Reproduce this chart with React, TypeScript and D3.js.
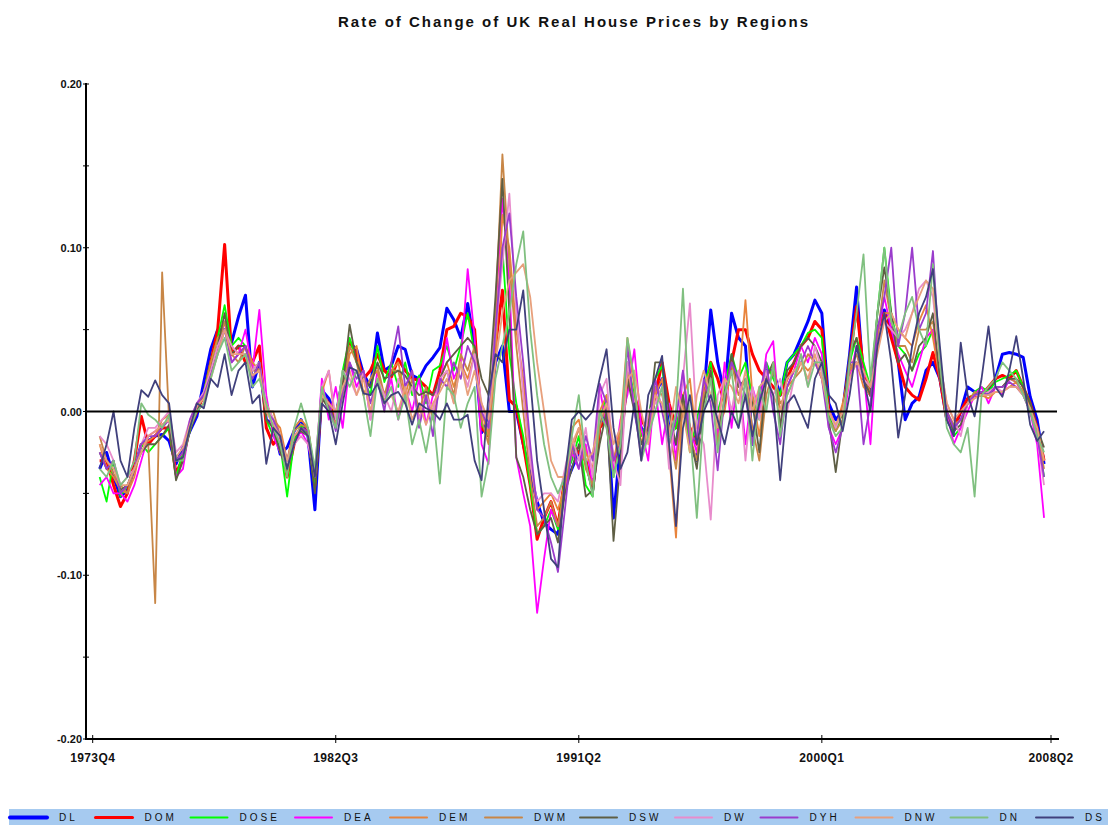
import React from "react";
import * as d3 from "d3";

// quarterly rate of change, 1974Q1 .. 2008Q1 (137 values each)
const firstQuarter = "1974Q1";
const xTickLabels = ["1973Q4", "1982Q3", "1991Q2", "2000Q1", "2008Q2"];
const yTicks = [-0.2, -0.1, 0, 0.1, 0.2];
const yMinorTicks = [-0.15, -0.05, 0.05, 0.15];

const seriesNames = ["DL", "DOM", "DOSE", "DEA", "DEM", "DWM", "DSW", "DW", "DYH", "DNW", "DN", "DS"];

const DL = [
  -0.035, -0.025, -0.040, -0.052, -0.048, -0.035, -0.020, -0.018, -0.015, -0.014,
  -0.018, -0.032, -0.022, -0.012, -0.003, 0.018, 0.038, 0.050, 0.050, 0.042,
  0.058, 0.071, 0.015, 0.030, -0.005, -0.008, -0.026, -0.022, -0.012, -0.005,
  -0.015, -0.060, 0.013, 0.008, -0.003, 0.020, 0.042, 0.038, 0.023, 0.015,
  0.048, 0.025, 0.028, 0.040, 0.038, 0.022, 0.020, 0.028, 0.033, 0.039,
  0.063, 0.056, 0.045, 0.066, 0.040, -0.013, -0.005, 0.030, 0.040, 0.000,
  0.000, -0.020, -0.038, -0.055, -0.068, -0.072, -0.075, -0.045, -0.035, -0.025,
  -0.030, -0.048, -0.010, 0.005, -0.065, -0.020, 0.025, 0.005, -0.010, -0.015,
  0.010, 0.020, -0.010, -0.020, 0.005, -0.020, -0.030, 0.010, 0.062, 0.030,
  0.010, 0.060, 0.045, 0.040, -0.020, 0.010, 0.025, 0.025, 0.010, 0.030,
  0.035, 0.045, 0.055, 0.068, 0.060, 0.005, -0.005, 0.000, 0.035, 0.076,
  0.020, 0.010, 0.050, 0.062, 0.050, 0.030, -0.005, 0.005, 0.009, 0.025,
  0.030, 0.020, -0.005, -0.012, 0.000, 0.015, 0.012, 0.010, 0.012, 0.020,
  0.035, 0.036, 0.035, 0.033, 0.009, -0.005, -0.032,
];

const DOM = [
  -0.030, -0.030, -0.045, -0.058, -0.050, -0.030, -0.003, -0.020, -0.015, -0.010,
  -0.010, -0.038, -0.028, -0.010, 0.000, 0.010, 0.030, 0.050, 0.102, 0.035,
  0.040, 0.030, 0.030, 0.040, -0.010, -0.020, -0.015, -0.040, -0.020, -0.010,
  -0.012, -0.045, 0.010, 0.005, -0.005, 0.020, 0.043, 0.035, 0.020, 0.025,
  0.035, 0.025, 0.021, 0.032, 0.025, 0.020, 0.019, 0.015, 0.010, 0.025,
  0.050, 0.052, 0.060, 0.058, 0.050, -0.010, -0.015, 0.040, 0.074, 0.007,
  0.003, -0.020, -0.045, -0.078, -0.065, -0.055, -0.070, -0.040, -0.020, -0.025,
  -0.030, -0.048, -0.010, -0.005, -0.035, -0.020, 0.020, 0.010, -0.005, -0.012,
  0.010, 0.030, 0.005, -0.010, 0.005, -0.010, -0.020, 0.010, 0.030, 0.020,
  0.005, 0.030, 0.050, 0.050, 0.035, 0.025, 0.020, 0.015, 0.010, 0.020,
  0.030, 0.040, 0.045, 0.055, 0.050, 0.000, -0.010, 0.000, 0.030, 0.064,
  0.025, 0.010, 0.050, 0.060, 0.045, 0.030, 0.015, 0.010, 0.007, 0.020,
  0.036, 0.020, -0.005, -0.010, 0.000, 0.008, 0.010, 0.010, 0.015, 0.020,
  0.022, 0.020, 0.025, 0.015, 0.005, -0.010, -0.030,
];

const DOSE = [
  -0.040, -0.055, -0.030, -0.052, -0.045, -0.035, -0.020, -0.025, -0.020, -0.015,
  -0.010, -0.040, -0.025, -0.012, 0.002, 0.012, 0.030, 0.045, 0.065, 0.040,
  0.045, 0.040, 0.025, 0.030, -0.005, -0.015, -0.020, -0.052, -0.018, -0.008,
  -0.015, -0.048,
  0.012, 0.000, -0.005, 0.025, 0.045, 0.030, 0.020, 0.010, 0.040, 0.018, 0.030, 0.015, 0.030,
  0.010, 0.022, 0.005, 0.025, 0.028, 0.040, 0.025, 0.040, 0.060, 0.035, -0.008, -0.015,
  0.050, 0.100, 0.035, 0.005, -0.015, -0.045, -0.075, -0.070, -0.060, -0.072, -0.040,
  -0.030, -0.015, -0.045, -0.052, -0.005, 0.010, -0.040, -0.020, 0.030, 0.010,
  -0.015, -0.005, 0.020, 0.028, -0.015, -0.010, 0.010, -0.025, -0.005, 0.015,
  0.030, 0.000, 0.015, 0.035, 0.020, 0.030, 0.010, -0.005, 0.030, 0.020,
  0.010, 0.030, 0.035, 0.040, 0.048, 0.050,
  0.045, -0.002, -0.012, 0.000, 0.030, 0.045, 0.030, 0.015, 0.060, 0.100, 0.060,
  0.040, 0.035, 0.025, 0.035, 0.040, 0.050, 0.025, -0.003, -0.015, -0.010, 0.005,
  0.012, 0.015, 0.012, 0.018, 0.020, 0.022, 0.025, 0.015, 0.005, -0.012, -0.040,
];

const DEA = [
  -0.045, -0.040, -0.050, -0.050, -0.055, -0.045, -0.030, -0.015, -0.012, -0.008,
  -0.005, -0.040, -0.035, -0.008, 0.002, 0.010, 0.025, 0.040, 0.055, 0.030,
  0.035, 0.050, 0.025, 0.062, 0.010, -0.015, -0.025, -0.035, -0.020, -0.012,
  -0.020, -0.040,
  0.020, -0.005, 0.015, -0.010, 0.030, 0.015, 0.025, -0.005, 0.025, 0.005, 0.020, -0.005, 0.015,
  0.000, 0.020, -0.008, 0.010, 0.015, 0.045, 0.020, 0.030, 0.087, 0.045, -0.020, -0.032,
  0.060, 0.130, 0.080, -0.028, -0.050, -0.070, -0.123, -0.090, -0.060, -0.070, -0.050,
  -0.025, -0.035, -0.020, -0.045, 0.015, -0.010, -0.035, -0.005, 0.010, 0.038,
  -0.010, -0.030, 0.015, -0.020, 0.005, -0.030, 0.025, -0.010, -0.025, 0.010,
  0.025, -0.015, 0.030, -0.010, 0.025, -0.020, 0.015, 0.000, 0.035, 0.043,
  -0.010, 0.015, 0.025, 0.040, 0.030, 0.045,
  0.035, -0.010, -0.020, -0.010, 0.020, 0.040, 0.025, -0.020, 0.045, 0.070, 0.050,
  0.035, 0.025, 0.015, 0.030, 0.045, 0.050, 0.020, 0.000, -0.020, -0.010, 0.000,
  0.010, 0.015, 0.005, 0.015, 0.010, 0.020, 0.018, 0.010, 0.000, -0.020, -0.065,
];

const DEM = [
  -0.020, -0.035, -0.040, -0.048, -0.050, -0.040, -0.020, -0.018, -0.015, -0.005,
  -0.002, -0.030, -0.025, -0.010, 0.005, 0.010, 0.030, 0.045, 0.050, 0.040,
  0.035, 0.040, 0.030, 0.025, 0.005, -0.005, -0.010, -0.030, -0.010, -0.005,
  -0.010, -0.040,
  0.012, 0.025, -0.008, 0.010, 0.035, 0.040, 0.010, 0.020, 0.025, 0.005, 0.025, 0.030, 0.010,
  0.025, -0.005, 0.010, 0.000, 0.020, 0.030, 0.015, 0.030, 0.020, 0.035, 0.000, -0.015,
  0.030, 0.120, 0.100, 0.050, 0.020, -0.030, -0.060, -0.055, -0.050, -0.060, -0.045,
  -0.010, -0.005, -0.025, -0.035, 0.000, 0.010, -0.030, -0.010, 0.045, 0.015,
  -0.020, -0.005, 0.010, 0.020, -0.025, -0.077, 0.010, 0.020, -0.020, 0.015,
  0.025, -0.010, 0.000, 0.030, 0.015, 0.068, 0.010, -0.015, 0.020, 0.030,
  0.000, 0.015, 0.020, 0.030, 0.025, 0.030,
  0.020, 0.000, -0.010, 0.005, 0.025, 0.030, 0.015, 0.010, 0.040, 0.060, 0.060,
  0.050, 0.045, 0.040, 0.055, 0.065, 0.045, 0.020, 0.000, -0.010, -0.005, 0.005,
  0.010, 0.010, 0.008, 0.012, 0.012, 0.015, 0.018, 0.012, 0.000, -0.010, -0.030,
];

const DWM = [
  -0.015, -0.030, -0.038, -0.045, -0.050, -0.035, -0.020, -0.020, -0.117, 0.085,
  -0.005, -0.030, -0.028, -0.008, 0.000, 0.005, 0.025, 0.040, 0.055, 0.035,
  0.030, 0.040, 0.025, 0.025, 0.000, 0.000, -0.015, -0.030, -0.012, -0.008,
  -0.010, -0.040,
  0.010, 0.005, -0.010, 0.015, 0.040, 0.030, 0.010, 0.020, 0.028, 0.010, 0.025, 0.025, 0.005,
  0.020, 0.000, 0.015, -0.005, 0.015, 0.025, 0.010, 0.035, 0.025, 0.040, -0.005, -0.020,
  0.060, 0.157, 0.090, 0.040, 0.000, -0.040, -0.070, -0.065, -0.055, -0.070, -0.045,
  -0.025, -0.010, -0.035, -0.045, -0.010, 0.005, -0.030, -0.015, 0.025, 0.005,
  -0.025, -0.010, 0.015, 0.010, -0.010, -0.035, 0.005, -0.015, -0.030, 0.010,
  0.020, -0.020, 0.010, 0.030, 0.010, 0.020, -0.010, -0.030, 0.010, 0.025,
  0.005, 0.010, 0.020, 0.025, 0.035, 0.030,
  0.025, -0.005, -0.012, -0.005, 0.025, 0.035, 0.020, 0.012, 0.045, 0.080, 0.055,
  0.040, 0.040, 0.030, 0.050, 0.050, 0.055, 0.025, 0.000, -0.008, -0.005, 0.005,
  0.012, 0.010, 0.010, 0.015, 0.015, 0.020, 0.018, 0.012, 0.002, -0.012, -0.035,
];

const DSW = [
  -0.025, -0.035, -0.030, -0.048, -0.045, -0.035, -0.025, -0.020, -0.020, -0.015,
  -0.008, -0.042, -0.030, -0.012, 0.000, 0.010, 0.025, 0.040, 0.060, 0.035,
  0.040, 0.040, 0.020, 0.030, -0.005, -0.010, -0.025, -0.035, -0.015, -0.012,
  -0.015, -0.050,
  0.008, 0.002, -0.005, 0.015, 0.053, 0.030, 0.020, 0.015, 0.030, 0.020, 0.022, 0.025, 0.022,
  0.015, 0.010, 0.012, 0.010, 0.020, 0.030, 0.035, 0.040, 0.045, 0.040, 0.020, 0.010,
  0.070, 0.142, 0.060, -0.028, -0.040, -0.060, -0.075, -0.070, -0.065, -0.080, -0.050,
  -0.035, -0.020, -0.052, -0.048, -0.020, 0.000, -0.079, -0.030, 0.020, 0.000,
  -0.020, -0.010, 0.030, 0.030, 0.000, -0.020, 0.010, -0.015, -0.035, 0.005,
  0.025, -0.010, 0.005, 0.035, 0.015, 0.020, 0.005, -0.025, 0.020, 0.030,
  -0.010, 0.025, 0.030, 0.040, 0.045, 0.040,
  0.030, -0.005, -0.037, -0.005, 0.035, 0.045, 0.020, 0.010, 0.060, 0.088, 0.060,
  0.030, 0.035, 0.025, 0.040, 0.045, 0.060, 0.020, 0.000, -0.012, -0.008, 0.005,
  0.010, 0.012, 0.010, 0.015, 0.015, 0.020, 0.020, 0.015, 0.005, -0.010, -0.022,
];

const DW = [
  -0.015, -0.020, -0.030, -0.045, -0.040, -0.035, -0.020, -0.010, -0.010, -0.005,
  0.000, -0.025, -0.020, -0.005, 0.005, 0.012, 0.025, 0.040, 0.050, 0.040,
  0.035, 0.035, 0.025, 0.030, 0.005, -0.005, -0.020, -0.030, -0.020, -0.015,
  -0.020, -0.035,
  0.015, 0.025, -0.005, 0.025, 0.020, 0.010, 0.025, -0.005, 0.020, 0.010, 0.000, 0.020, 0.005,
  0.015, -0.005, 0.010, 0.000, 0.020, 0.025, 0.005, 0.030, 0.015, 0.035, 0.005, -0.010,
  0.050, 0.090, 0.133, 0.060, 0.010, -0.030, -0.055, -0.050, -0.050, -0.055, -0.035,
  -0.015, -0.030, -0.010, -0.040, 0.010, 0.020, -0.030, -0.045, 0.030, 0.005,
  -0.030, 0.000, 0.005, 0.015, -0.035, 0.000, 0.020, 0.066, -0.010, -0.020,
  -0.066, 0.010, 0.020, 0.000, 0.025, -0.030, 0.015, -0.005, 0.025, 0.010,
  0.020, 0.000, 0.020, 0.035, 0.015, 0.040,
  0.025, 0.000, -0.010, 0.000, 0.020, 0.030, 0.020, 0.015, 0.040, 0.055, 0.050,
  0.045, 0.050, 0.060, 0.075, 0.080, 0.070, 0.030, 0.005, -0.005, -0.015, 0.005,
  0.010, 0.010, 0.012, 0.015, 0.012, 0.015, 0.015, 0.010, 0.000, -0.015, -0.045,
];

const DYH = [
  -0.025, -0.035, -0.030, -0.050, -0.045, -0.035, -0.020, -0.015, -0.015, -0.010,
  -0.005, -0.030, -0.025, -0.005, 0.005, 0.010, 0.022, 0.035, 0.050, 0.030,
  0.035, 0.040, 0.020, 0.030, 0.000, -0.005, -0.015, -0.030, -0.015, -0.010,
  -0.012, -0.040,
  0.010, 0.005, -0.012, 0.012, 0.030, 0.020, 0.025, 0.005, 0.020, 0.000, 0.030, 0.052, 0.015,
  0.025, -0.010, 0.010, -0.015, 0.020, 0.015, 0.030, 0.020, 0.040, 0.030, 0.000, -0.010,
  0.050, 0.100, 0.121, 0.070, 0.030, -0.020, -0.060, -0.065, -0.080, -0.098, -0.060,
  -0.020, -0.035, -0.015, -0.030, 0.017, 0.005, -0.030, -0.020, 0.040, 0.000,
  -0.025, -0.015, 0.020, 0.000, -0.020, -0.005, 0.025, -0.020, -0.015, 0.020,
  0.005, -0.036, 0.010, 0.030, 0.020, 0.010, -0.020, 0.010, 0.030, 0.000,
  -0.020, 0.015, 0.025, 0.030, 0.040, 0.030,
  0.020, -0.010, -0.025, -0.010, 0.030, 0.030, -0.020, 0.005, 0.050, 0.070, 0.100,
  0.040, 0.060, 0.100, 0.050, 0.060, 0.098, 0.030, 0.000, -0.010, -0.005, 0.005,
  0.010, 0.012, 0.010, 0.015, 0.015, 0.018, 0.015, 0.010, 0.000, -0.015, -0.040,
];

const DNW = [
  -0.020, -0.030, -0.035, -0.045, -0.045, -0.035, -0.025, -0.015, -0.012, -0.008,
  -0.005, -0.028, -0.022, -0.008, 0.003, 0.008, 0.020, 0.035, 0.050, 0.035,
  0.035, 0.035, 0.022, 0.025, 0.000, -0.008, -0.015, -0.030, -0.015, -0.010,
  -0.015, -0.040,
  0.010, 0.005, 0.000, 0.015, 0.025, 0.010, 0.020, 0.000, 0.020, 0.005, 0.010, 0.000, 0.015,
  -0.005, 0.005, -0.008, 0.005, 0.012, 0.020, 0.005, 0.030, 0.010, 0.025, 0.005, -0.005,
  0.030, 0.060, 0.080, 0.085, 0.090, 0.070, 0.030, 0.000, -0.030, -0.040, -0.040,
  -0.020, -0.010, -0.030, -0.025, -0.005, 0.005, -0.020, -0.010, 0.020, 0.025,
  0.000, -0.020, 0.010, 0.005, -0.015, 0.015, 0.000, -0.025, 0.010, 0.025,
  0.010, -0.010, 0.020, 0.015, 0.005, 0.025, 0.000, 0.015, 0.020, 0.010,
  0.000, 0.020, 0.025, 0.030, 0.020, 0.035,
  0.020, 0.000, -0.008, 0.000, 0.020, 0.030, 0.025, 0.015, 0.035, 0.055, 0.060,
  0.050, 0.045, 0.060, 0.070, 0.080, 0.075, 0.030, 0.005, -0.005, 0.000, 0.005,
  0.008, 0.010, 0.010, 0.012, 0.012, 0.015, 0.015, 0.010, 0.002, -0.010, -0.030,
];

const DN = [
  -0.035, -0.040, -0.030, -0.045, -0.040, -0.030, 0.005, -0.002, -0.005, -0.010,
  -0.002, -0.030, -0.030, -0.010, 0.000, 0.005, 0.020, 0.035, 0.045, 0.025,
  0.030, 0.035, 0.015, 0.020, 0.005, -0.010, -0.020, -0.040, -0.010, 0.005,
  -0.010, -0.035,
  0.015, 0.000, -0.010, 0.025, 0.015, 0.025, 0.010, -0.015, 0.020, 0.005, 0.015, -0.005, 0.010,
  -0.020, -0.005, -0.025, 0.000, -0.044, 0.015, 0.010, -0.010, 0.005, 0.015, -0.052, -0.030,
  0.020, 0.040, 0.060, 0.090, 0.110, 0.050, 0.010, -0.020, -0.040, -0.050, -0.040,
  -0.015, 0.010, -0.030, -0.052, 0.000, -0.010, -0.040, -0.020, 0.045, 0.020,
  -0.030, -0.015, 0.000, 0.015, -0.020, 0.000, 0.075, -0.010, -0.065, 0.000,
  0.020, -0.025, 0.010, 0.025, -0.010, 0.020, -0.030, 0.015, 0.000, 0.030,
  -0.015, 0.010, 0.020, 0.035, 0.015, 0.030,
  0.030, -0.005, -0.015, -0.010, 0.030, 0.060, 0.096, 0.020, 0.060, 0.100, 0.055,
  0.045, 0.060, 0.070, 0.050, 0.040, 0.090, 0.030, -0.010, -0.020, -0.025, -0.010,
  -0.052, 0.010, 0.015, 0.020, 0.030, 0.025, 0.020, 0.010, 0.000, -0.015, -0.025,
];

const DS = [
  -0.035, -0.020, 0.000, -0.030, -0.040, -0.010, 0.013, 0.009, 0.019, 0.010,
  0.005, -0.030, -0.028, -0.010, 0.005, 0.002, 0.020, 0.015, 0.035, 0.010,
  0.025, 0.030, 0.005, 0.010, -0.032, -0.010, -0.015, -0.035, -0.020, -0.010,
  -0.015, -0.040,
  0.005, 0.000, -0.020, 0.005, 0.027, 0.025, 0.011, 0.010, 0.017, 0.005, 0.010, 0.012, 0.005,
  -0.008, 0.005, 0.002, 0.000, -0.005, 0.005, -0.005, -0.005, -0.002, -0.030, -0.042, 0.010,
  0.035, 0.030, 0.050, 0.050, 0.074, 0.020, -0.030, -0.060, -0.090, -0.095, -0.040,
  -0.005, 0.000, -0.005, 0.000, 0.020, 0.038, -0.010, -0.035, -0.025, 0.005,
  -0.030, 0.010, 0.020, 0.034, -0.020, -0.070, -0.010, 0.010, -0.020, 0.000,
  0.010, -0.005, -0.020, 0.000, -0.010, 0.010, -0.015, 0.005, 0.020, 0.010,
  -0.042, 0.005, 0.010, 0.000, -0.010, 0.020,
  0.030, 0.010, 0.005, -0.012, 0.010, 0.040, 0.020, 0.000, 0.040, 0.060, 0.030,
  -0.016, 0.010, 0.040, 0.060, 0.070, 0.087, 0.040, -0.005, -0.015, 0.042, 0.010,
  -0.003, 0.020, 0.052, 0.015, 0.009, 0.025, 0.046, 0.020, -0.008, -0.018, -0.012,
];

const seriesValues = [DL, DOM, DOSE, DEA, DEM, DWM, DSW, DW, DYH, DNW, DN, DS];
const seriesColors = [
  "#0000ff", "#ff0000", "#00ff00", "#ff00ff", "#e8843c", "#c88646",
  "#5e5e44", "#e88ccc", "#9a3ccc", "#e8a07c", "#80c080", "#40407c",
];
const seriesWidths = [3, 3, 1.8, 1.8, 1.8, 1.8, 1.8, 1.8, 1.8, 1.8, 1.8, 1.8];
const legendWidths = [4, 3, 2, 2, 2, 2, 2, 2, 2, 2, 2, 2];

// "1982Q3" -> quarters since 1973Q4
const quarterIndex = (label: string) => {
  const year = +label.slice(0, 4);
  const q = +label.slice(5);
  return (year - 1973) * 4 + (q - 4);
};

const FONT = "'Liberation Sans', Arial, sans-serif";

export default function App() {
  const width = 1108;
  const height = 825;

  const x = d3.scaleLinear().domain([0, 138]).range([92.7, 1051]);
  const y = d3.scaleLinear().domain([-0.2, 0.2]).range([739, 84]);
  const start = quarterIndex(firstQuarter);

  const line = d3
    .line<number>()
    .x((d, i) => x(start + i))
    .y((d) => y(d));

  const axisLeft = 86;
  const axisRight = 1059;

  // legend items are spaced by label length
  let lx = 10;
  const legendItems = seriesNames.map((name, i) => {
    const item = { name, x: lx, color: seriesColors[i], w: legendWidths[i] };
    lx += 66.5 + 9.5 * name.length;
    return item;
  });

  return (
    <div style={{ position: "absolute", left: 0, top: 0 }}>
      <svg width={width} height={height} style={{ display: "block", background: "#fff" }}>
        <text
          x={573}
          y={27}
          textAnchor="middle"
          fontFamily={FONT}
          fontSize={15}
          fontWeight="bold"
          textLength={470}
          lengthAdjust="spacing"
          fill="#111"
        >
          Rate of Change of UK Real House Prices by Regions
        </text>

        {/* series */}
        <g fill="none" strokeLinejoin="round">
          {seriesValues.map((vals, i) => (
            <path key={seriesNames[i]} d={line(vals) || ""} stroke={seriesColors[i]} strokeWidth={seriesWidths[i]} />
          ))}
        </g>

        {/* zero line */}
        <line x1={axisLeft} x2={axisRight - 2} y1={y(0)} y2={y(0)} stroke="#000" strokeWidth={2} />

        {/* y axis */}
        <line x1={axisLeft} x2={axisLeft} y1={y(0.2) - 1} y2={y(-0.2) + 1} stroke="#000" strokeWidth={2} />
        {yTicks.concat(yMinorTicks).map((t) => (
          <line key={"yt" + t} x1={axisLeft - 3} x2={axisLeft + 3} y1={y(t)} y2={y(t)} stroke="#000" strokeWidth={1} />
        ))}
        {yTicks.map((t) => (
          <text
            key={"yl" + t}
            x={axisLeft - 4}
            y={y(t) + 4}
            textAnchor="end"
            fontFamily={FONT}
            fontSize={11}
            fontWeight="bold"
            fill="#111"
          >
            {t.toFixed(2)}
          </text>
        ))}

        {/* x axis */}
        <line x1={axisLeft} x2={axisRight} y1={y(-0.2)} y2={y(-0.2)} stroke="#000" strokeWidth={2} />
        {xTickLabels.map((lab) => {
          const xi = x(quarterIndex(lab));
          return (
            <g key={lab}>
              <line x1={xi} x2={xi} y1={y(-0.2) - 4} y2={y(-0.2) + 4} stroke="#000" strokeWidth={1} />
              <text
                x={xi}
                y={762}
                textAnchor="middle"
                fontFamily={FONT}
                fontSize={12}
                fontWeight="bold"
                letterSpacing={0.4}
                fill="#111"
              >
                {lab}
              </text>
            </g>
          );
        })}

        {/* legend */}
        <rect x={9} y={809} width={width - 9} height={16} fill="#a6caf0" />
        {legendItems.map((it) => (
          <g key={it.name}>
            <line x1={it.x} x2={it.x + 37} y1={817.5} y2={817.5} stroke={it.color} strokeWidth={it.w} strokeLinecap="round" />
            <text x={it.x + 49} y={821} fontFamily={FONT} fontSize={10} letterSpacing={3} fill="#111">
              {it.name}
            </text>
          </g>
        ))}
      </svg>
    </div>
  );
}
